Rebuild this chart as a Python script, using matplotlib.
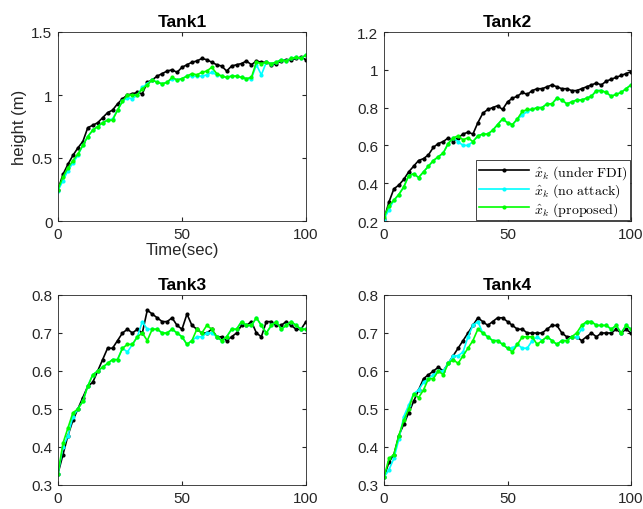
import matplotlib
matplotlib.use("Agg")
import matplotlib.pyplot as plt
import numpy as np

plt.rcParams['font.family'] = ['Liberation Sans', 'DejaVu Sans']
plt.rcParams['mathtext.fontset'] = 'cm'

# time axis, one sample every 2 s
t = np.arange(0, 101, 2)

tank_names = ["Tank1", "Tank2", "Tank3", "Tank4"]
labels = [r'$\hat{x}_k\ \mathrm{(under\ FDI)}$',
          r'$\hat{x}_k\ \mathrm{(no\ attack)}$',
          r'$\hat{x}_k\ \mathrm{(proposed)}$']

# Tank1
t1_fdi = [0.25, 0.37, 0.45, 0.52, 0.58, 0.63, 0.74, 0.76, 0.78, 0.82, 0.86,
          0.88, 0.93, 0.97, 1.00, 1.01, 1.02, 1.01, 1.10, 1.12, 1.15, 1.17,
          1.19, 1.20, 1.18, 1.22, 1.24, 1.26, 1.27, 1.29, 1.28, 1.26, 1.24,
          1.23, 1.19, 1.23, 1.24, 1.25, 1.27, 1.24, 1.27, 1.26, 1.26, 1.24,
          1.25, 1.27, 1.28, 1.28, 1.29, 1.30, 1.28]
t1_noatk = [0.24, 0.32, 0.40, 0.46, 0.52, 0.60, 0.67, 0.72, 0.75, 0.78, 0.80,
            0.81, 0.88, 0.95, 0.98, 0.97, 1.00, 1.06, 1.09, 1.12, 1.10, 1.09,
            1.10, 1.13, 1.12, 1.13, 1.15, 1.15, 1.15, 1.15, 1.16, 1.18, 1.16,
            1.15, 1.14, 1.15, 1.15, 1.14, 1.13, 1.13, 1.24, 1.16, 1.26, 1.25,
            1.26, 1.28, 1.27, 1.29, 1.30, 1.29, 1.32]
t1_prop = [0.25, 0.35, 0.42, 0.48, 0.53, 0.60, 0.67, 0.72, 0.75, 0.78, 0.80,
           0.80, 0.88, 0.95, 1.00, 1.00, 1.00, 1.05, 1.08, 1.12, 1.10, 1.09,
           1.10, 1.14, 1.12, 1.13, 1.15, 1.17, 1.16, 1.18, 1.19, 1.22, 1.17,
           1.15, 1.14, 1.15, 1.15, 1.14, 1.13, 1.14, 1.26, 1.25, 1.26, 1.25,
           1.26, 1.28, 1.27, 1.29, 1.30, 1.29, 1.32]

# Tank2
t2_fdi = [0.21, 0.30, 0.37, 0.39, 0.42, 0.46, 0.49, 0.52, 0.53, 0.55, 0.59,
          0.61, 0.62, 0.64, 0.62, 0.64, 0.66, 0.67, 0.66, 0.72, 0.77, 0.79,
          0.80, 0.81, 0.79, 0.83, 0.85, 0.86, 0.88, 0.87, 0.89, 0.90, 0.90,
          0.91, 0.92, 0.91, 0.90, 0.90, 0.89, 0.89, 0.90, 0.91, 0.92, 0.93,
          0.92, 0.94, 0.95, 0.96, 0.97, 0.98, 0.99]
t2_noatk = [0.21, 0.26, 0.31, 0.34, 0.38, 0.44, 0.45, 0.43, 0.46, 0.49, 0.52,
            0.54, 0.56, 0.61, 0.64, 0.62, 0.60, 0.60, 0.62, 0.65, 0.66, 0.66,
            0.68, 0.71, 0.74, 0.72, 0.71, 0.74, 0.76, 0.78, 0.79, 0.80, 0.80,
            0.82, 0.82, 0.85, 0.84, 0.82, 0.83, 0.84, 0.84, 0.85, 0.86, 0.89,
            0.89, 0.88, 0.86, 0.87, 0.88, 0.90, 0.92]
t2_prop = [0.22, 0.28, 0.31, 0.34, 0.38, 0.44, 0.45, 0.43, 0.46, 0.49, 0.52,
           0.54, 0.56, 0.61, 0.64, 0.65, 0.63, 0.64, 0.62, 0.65, 0.66, 0.66,
           0.68, 0.71, 0.74, 0.72, 0.71, 0.74, 0.78, 0.79, 0.79, 0.80, 0.80,
           0.82, 0.82, 0.85, 0.84, 0.82, 0.83, 0.84, 0.84, 0.85, 0.86, 0.89,
           0.89, 0.88, 0.86, 0.87, 0.88, 0.90, 0.92]

# Tank3
t3_fdi = [0.33, 0.38, 0.43, 0.47, 0.50, 0.53, 0.56, 0.57, 0.60, 0.63, 0.66,
          0.66, 0.68, 0.70, 0.71, 0.70, 0.71, 0.70, 0.76, 0.75, 0.74, 0.73,
          0.73, 0.74, 0.72, 0.71, 0.75, 0.72, 0.71, 0.70, 0.70, 0.71, 0.69,
          0.69, 0.68, 0.69, 0.70, 0.72, 0.72, 0.73, 0.70, 0.69, 0.73, 0.73,
          0.72, 0.72, 0.73, 0.72, 0.71, 0.71, 0.73]
t3_noatk = [0.33, 0.40, 0.43, 0.48, 0.50, 0.52, 0.56, 0.59, 0.60, 0.61, 0.62,
            0.63, 0.63, 0.66, 0.65, 0.67, 0.69, 0.73, 0.71, 0.71, 0.71, 0.70,
            0.70, 0.71, 0.70, 0.69, 0.67, 0.68, 0.69, 0.69, 0.70, 0.70, 0.69,
            0.68, 0.69, 0.71, 0.71, 0.73, 0.72, 0.72, 0.74, 0.72, 0.70, 0.72,
            0.73, 0.71, 0.72, 0.73, 0.72, 0.71, 0.71]
t3_prop = [0.33, 0.41, 0.45, 0.49, 0.50, 0.52, 0.56, 0.59, 0.60, 0.61, 0.62,
           0.63, 0.63, 0.66, 0.67, 0.67, 0.69, 0.70, 0.68, 0.71, 0.71, 0.70,
           0.70, 0.71, 0.70, 0.69, 0.67, 0.68, 0.71, 0.70, 0.72, 0.71, 0.69,
           0.68, 0.69, 0.71, 0.71, 0.73, 0.72, 0.72, 0.74, 0.72, 0.70, 0.72,
           0.73, 0.71, 0.72, 0.73, 0.72, 0.71, 0.71]

# Tank4
t4_fdi = [0.32, 0.36, 0.38, 0.43, 0.46, 0.49, 0.52, 0.55, 0.58, 0.59, 0.60,
          0.61, 0.60, 0.62, 0.64, 0.66, 0.68, 0.70, 0.72, 0.74, 0.73, 0.72,
          0.73, 0.74, 0.74, 0.73, 0.72, 0.71, 0.71, 0.70, 0.70, 0.70, 0.70,
          0.71, 0.72, 0.72, 0.70, 0.69, 0.69, 0.69, 0.68, 0.69, 0.70, 0.69,
          0.70, 0.70, 0.70, 0.71, 0.70, 0.71, 0.70]
t4_noatk = [0.32, 0.34, 0.37, 0.42, 0.48, 0.51, 0.54, 0.55, 0.57, 0.58, 0.59,
            0.60, 0.60, 0.62, 0.64, 0.64, 0.65, 0.69, 0.72, 0.73, 0.70, 0.69,
            0.68, 0.68, 0.67, 0.66, 0.66, 0.67, 0.66, 0.66, 0.68, 0.69, 0.68,
            0.69, 0.68, 0.67, 0.68, 0.68, 0.69, 0.69, 0.71, 0.73, 0.73, 0.72,
            0.72, 0.72, 0.71, 0.72, 0.70, 0.72, 0.71]
t4_prop = [0.32, 0.37, 0.38, 0.43, 0.47, 0.50, 0.54, 0.53, 0.55, 0.58, 0.58,
           0.60, 0.59, 0.62, 0.63, 0.62, 0.64, 0.66, 0.68, 0.71, 0.70, 0.69,
           0.68, 0.68, 0.67, 0.66, 0.65, 0.67, 0.69, 0.69, 0.69, 0.67, 0.68,
           0.69, 0.68, 0.67, 0.68, 0.68, 0.69, 0.70, 0.72, 0.73, 0.73, 0.72,
           0.72, 0.72, 0.71, 0.72, 0.70, 0.72, 0.71]

series = [(t1_fdi, t1_noatk, t1_prop), (t2_fdi, t2_noatk, t2_prop),
          (t3_fdi, t3_noatk, t3_prop), (t4_fdi, t4_noatk, t4_prop)]
ylims = [(0, 1.5), (0.2, 1.2), (0.3, 0.8), (0.3, 0.8)]
yticks = [[0, 0.5, 1, 1.5], [0.2, 0.4, 0.6, 0.8, 1, 1.2],
          [0.3, 0.4, 0.5, 0.6, 0.7, 0.8], [0.3, 0.4, 0.5, 0.6, 0.7, 0.8]]
colors = ['k', '#00ffff', '#00ff00']

W, H = 643, 510
fig = plt.figure(figsize=(W / 100, H / 100), dpi=100)
# axes boxes in pixels: left, top, right, bottom
boxes = [(58, 33, 306, 222), (384, 33, 631, 222),
         (58, 296, 306, 486), (384, 296, 631, 486)]

for i, (l, tp, r, b) in enumerate(boxes):
    ax = fig.add_axes([l / W, 1 - b / H, (r - l) / W, (b - tp) / H])
    for y, c, lab in zip(series[i], colors, labels):
        ax.plot(t, y, color=c, marker='.', markersize=4, linewidth=1.2,
                label=lab)
    ax.set_xlim(0, 100)
    ax.set_ylim(*ylims[i])
    ax.set_xticks([0, 50, 100])
    ax.set_yticks(yticks[i])
    ax.set_yticklabels([('%g' % v) for v in yticks[i]])
    ax.tick_params(direction='in', top=True, right=True, length=3,
                   labelsize=11, colors='#262626', pad=4)
    for sp in ax.spines.values():
        sp.set_color('#262626')
        sp.set_linewidth(0.6)
    ax.set_title(tank_names[i], fontsize=12.5, fontweight='bold', pad=4)
    if i == 0:
        ax.set_xlabel('Time(sec)', fontsize=12, color='#262626', labelpad=1)
        ax.set_ylabel('height (m)', fontsize=12, color='#262626', labelpad=3)
    if i == 1:
        leg = ax.legend(loc='lower right', fontsize=10, fancybox=False,
                        framealpha=1, edgecolor='#262626', borderpad=0.2,
                        handlelength=3.6, labelspacing=0.05, borderaxespad=0.05,
                        handletextpad=0.4)
        leg.get_frame().set_linewidth(0.6)

fig.savefig('out.png', dpi=100)
